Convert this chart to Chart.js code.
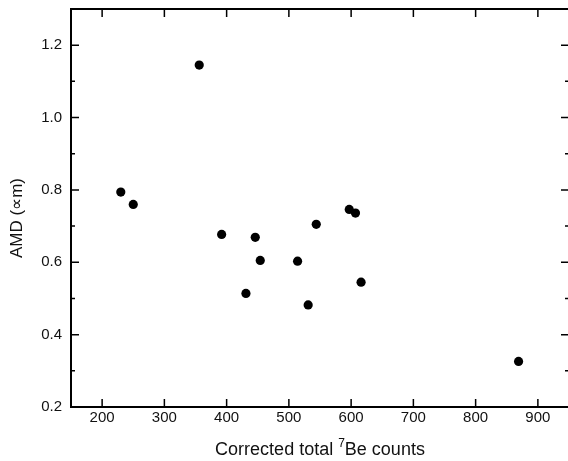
<!DOCTYPE html>
<html>
<head>
<meta charset="utf-8">
<script src="https://cdn.jsdelivr.net/npm/chart.js@4.4.0/dist/chart.umd.min.js"></script>
<style>
  html, body { margin: 0; padding: 0; background: #fff; overflow: hidden; }
  #wrap { width: 570px; height: 461px; }
</style>
</head>
<body>
<div id="wrap"><canvas id="myChart" width="570" height="461"></canvas></div>
<script>
/* data */
let counts = [230, 250, 356, 392, 431, 446, 454, 514, 531, 544, 597, 607, 616, 869];
let amd = [0.794, 0.760, 1.145, 0.677, 0.514, 0.669, 0.605, 0.603, 0.482, 0.705, 0.746, 0.736, 0.545, 0.326];
let xTicks = [200, 300, 400, 500, 600, 700, 800, 900];
let yTicks = [0.2, 0.4, 0.6, 0.8, 1.0, 1.2];
let yMinorTicks = [0.3, 0.5, 0.7, 0.9, 1.1, 1.3];
let xTitle = ["Corrected total ", "7", "Be counts"];
let yTitle = "AMD (\u221Dm)";

let fontFamily = '"Liberation Sans", Arial, sans-serif';

/* box round the plot, ticks pointing inward, axis titles */
let frameTicks = {
  id: 'frameTicks',
  afterDraw(chart) {
    let ctx = chart.ctx;
    let area = chart.chartArea;
    let x = chart.scales.x;
    let y = chart.scales.y;
    ctx.save();
    ctx.strokeStyle = '#000';
    ctx.lineWidth = 1.5;
    ctx.beginPath();
    xTicks.forEach(v => {
      let px = x.getPixelForValue(v);
      ctx.moveTo(px, area.bottom);
      ctx.lineTo(px, area.bottom - 8);
      ctx.moveTo(px, area.top);
      ctx.lineTo(px, area.top + 8);
    });
    yTicks.forEach(v => {
      let py = y.getPixelForValue(v);
      ctx.moveTo(area.left, py);
      ctx.lineTo(area.left + 8, py);
      ctx.moveTo(area.right, py);
      ctx.lineTo(area.right - 8, py);
    });
    yMinorTicks.forEach(v => {
      let py = y.getPixelForValue(v);
      ctx.moveTo(area.left, py);
      ctx.lineTo(area.left + 4, py);
      ctx.moveTo(area.right, py);
      ctx.lineTo(area.right - 4, py);
    });
    ctx.stroke();
    ctx.lineWidth = 2;
    ctx.strokeRect(area.left, area.top, area.right - area.left, area.bottom - area.top);

    ctx.fillStyle = '#111';

    // x title with a raised 7
    let big = '18px ' + fontFamily;
    let small = '12px ' + fontFamily;
    ctx.textBaseline = 'alphabetic';
    ctx.textAlign = 'left';
    ctx.font = big;
    let w0 = ctx.measureText(xTitle[0]).width;
    let w2 = ctx.measureText(xTitle[2]).width;
    ctx.font = small;
    let w1 = ctx.measureText(xTitle[1]).width;
    let start = (area.left + area.right) / 2 - (w0 + w1 + w2) / 2;
    let base = 455;
    ctx.font = big;
    ctx.fillText(xTitle[0], start, base);
    ctx.font = small;
    ctx.fillText(xTitle[1], start + w0, base - 8);
    ctx.font = big;
    ctx.fillText(xTitle[2], start + w0 + w1, base);

    // y title
    ctx.font = '17px ' + fontFamily;
    ctx.textAlign = 'center';
    ctx.textBaseline = 'middle';
    ctx.translate(17.5, 218);
    ctx.rotate(-Math.PI / 2);
    ctx.fillText(yTitle, 0, 0);
    ctx.restore();
  }
};

let ctx = document.getElementById('myChart').getContext('2d');
let my_chart = new Chart(ctx, {
  type: 'scatter',
  data: {
    datasets: [{
      data: counts.map((c, i) => ({ x: c, y: amd[i] })),
      backgroundColor: '#000',
      borderColor: '#000',
      borderWidth: 0,
      pointRadius: 4.6,
    }]
  },
  options: {
    responsive: false,
    animation: false,
    devicePixelRatio: 1,
    layout: { autoPadding: false, padding: { top: 9, right: 1, left: 0, bottom: 0 } },
    plugins: {
      legend: { display: false },
      tooltip: { enabled: false },
    },
    scales: {
      x: {
        type: 'linear',
        min: 150,
        max: 950,
        grid: { display: false, drawTicks: false },
        border: { display: false },
        afterBuildTicks: s => { s.ticks = xTicks.map(v => ({ value: v })); },
        afterFit: s => {
          s.height = 54;
          s.paddingLeft = 0;
          s.paddingRight = 0;
        },
        ticks: { padding: 2, color: '#111', font: { family: fontFamily, size: 15 } },
      },
      y: {
        type: 'linear',
        min: 0.2,
        max: 1.3,
        grid: { display: false, drawTicks: false },
        border: { display: false },
        afterBuildTicks: s => { s.ticks = yTicks.map(v => ({ value: v })); },
        afterFit: s => {
          s.width = 71;
          s.paddingTop = 0;
          s.paddingBottom = 0;
        },
        ticks: {
          padding: 9,
          color: '#111',
          font: { family: fontFamily, size: 15 },
          callback: v => v.toFixed(1),
        },
      },
    },
  },
  plugins: [frameTicks],
});
</script>
</body>
</html>
